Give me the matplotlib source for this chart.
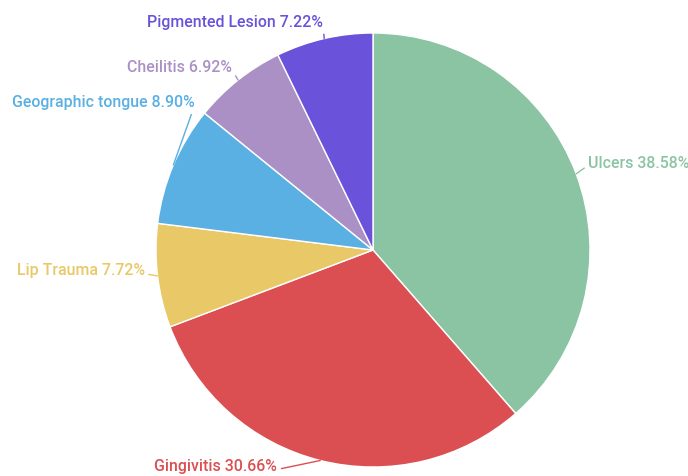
import numpy as np
import matplotlib.pyplot as plt

plt.rcParams['font.family'] = ['Roboto', 'DejaVu Sans']

# data
labels = ['Ulcers', 'Gingivitis', 'Lip Trauma', 'Geographic tongue', 'Cheilitis', 'Pigmented Lesion']
shares = [38.58, 30.66, 7.72, 8.90, 6.92, 7.22]
colors = ['#8BC4A3', '#DB4F52', '#E9C867', '#5AB0E2', '#AB90C5', '#6A52DB']

# label offsets (pixels) from the wedge edge, and text alignment
offsets = [(12, 10), (-43, -6), (-13, 5), (21, 62), (-6, 13), (-1, 16)]
aligns = ['left', 'right', 'right', 'right', 'right', 'right']

W, H = 688, 476
fig = plt.figure(figsize=(W / 100, H / 100), dpi=100)
cx, cy, r = 373, 250, 217
ax = fig.add_axes([(cx - r) / W, (H - cy - r) / H, 2 * r / W, 2 * r / H])

wedges, _ = ax.pie(shares, colors=colors, startangle=90, counterclock=False,
                   radius=1, wedgeprops=dict(edgecolor='white', linewidth=1))
ax.set_xlim(-1, 1)
ax.set_ylim(-1, 1)
ax.set_aspect('equal')
ax.axis('off')

for w, lab, val, col, off, ha in zip(wedges, labels, shares, colors, offsets, aligns):
    mid = np.deg2rad((w.theta1 + w.theta2) / 2)
    x, y = np.cos(mid), np.sin(mid)
    rel = (0, 0.4) if ha == 'left' else (1, 0.3)
    ax.annotate(f'{lab} {val:.2f}%', xy=(x, y), xytext=off, textcoords='offset pixels',
                ha=ha, va='center', color=col, fontsize=11.4, fontweight='medium',
                annotation_clip=False,
                arrowprops=dict(arrowstyle='-', color=col, lw=1, relpos=rel,
                                shrinkA=1, shrinkB=0))

fig.savefig('out.png', dpi=100)
